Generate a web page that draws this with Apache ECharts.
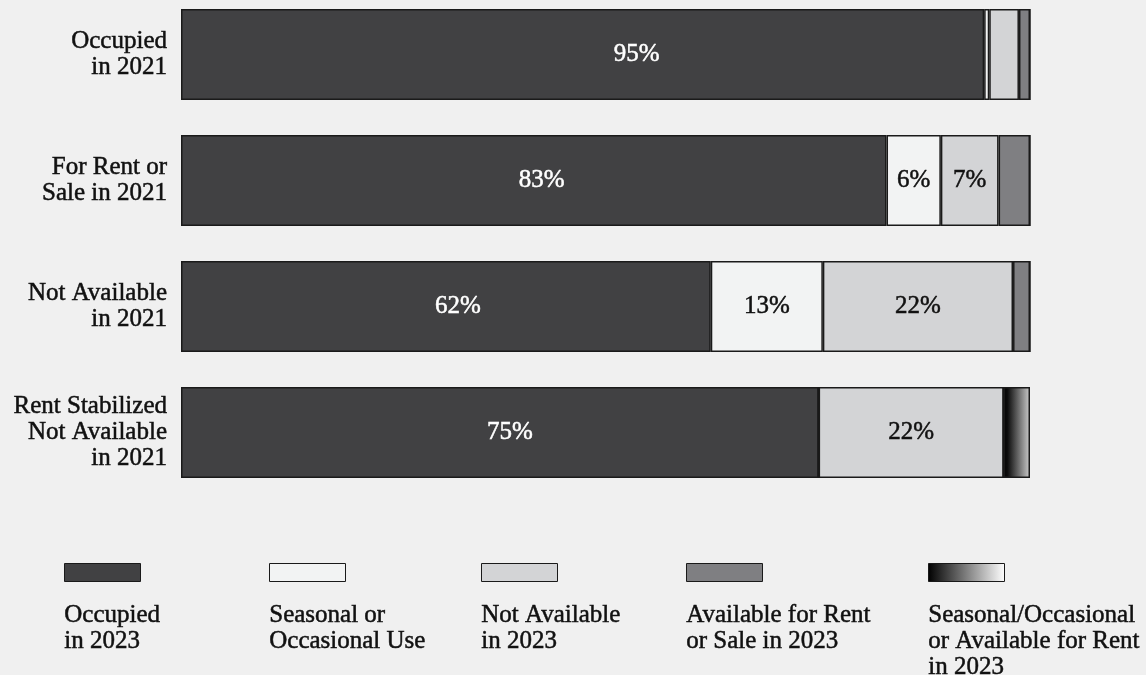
<!DOCTYPE html>
<html>
<head>
<meta charset="utf-8">
<script src="https://cdn.jsdelivr.net/npm/echarts@6/dist/echarts.min.js"></script>
<style>
html,body{margin:0;padding:0;background:#f0f0f0;}
#chart{width:1146px;height:675px;}
</style>
</head>
<body>
<div id="chart"></div>
<script>
// ---- data ----
var categories = ['Occupied\nin 2021', 'For Rent or\nSale in 2021', 'Not Available\nin 2021', 'Rent Stabilized\nNot Available\nin 2021'];
var occupied2023 = [94.6, 83.1, 62.4, 75.1];
var seasonalUse = [0.6, 6.4, 13.2, 0];
var notAvailable2023 = [3.5, 6.8, 22.4, 21.8];
var availableRentSale2023 = [1.3, 3.7, 2.0, 0];
var seasonalOrAvailable2023 = [0, 0, 0, 3.1];
var legendNames = ['Occupied\nin 2023', 'Seasonal or\nOccasional Use', 'Not Available\nin 2023', 'Available for Rent\nor Sale in 2023', 'Seasonal/Occasional\nor Available for Rent\nin 2023'];

// ---- styles ----
var FONT = 'Liberation Serif';
var FS = 25;
var STROKE = 0.5;
var gradBar = new echarts.graphic.LinearGradient(0, 0, 1, 0, [
  {offset: 0, color: '#000000'}, {offset: 0.15, color: '#0d0d0d'}, {offset: 1, color: '#cccccc'}]);
var gradLegend = new echarts.graphic.LinearGradient(0, 0, 1, 0, [
  {offset: 0, color: '#000000'}, {offset: 1, color: '#ffffff'}]);
var fills = ['#414143', '#f2f3f3', '#d3d4d6', '#7f7f82', gradBar];
var legendFills = ['#414143', '#f2f3f3', '#d3d4d6', '#7f7f82', gradLegend];
var labelColors = ['#ffffff', '#111111', '#111111', '#111111', '#111111'];
var occLabelOffsetX = [54, 8, 12, 10];
var legendX = [64, 269, 481, 686, 928];

var seriesValues = [occupied2023, seasonalUse, notAvailable2023, availableRentSale2023, seasonalOrAvailable2023];

var series = seriesValues.map(function (vals, si) {
  return {
    type: 'bar',
    name: legendNames[si],
    stack: 'all',
    barWidth: 91,
    data: vals.map(function (v, i) {
      var item = {value: v};
      if (si === 0) item.label = {offset: [occLabelOffsetX[i], 0]};
      return item;
    }),
    itemStyle: {color: fills[si], borderColor: '#1a1a1a', borderWidth: 1.5},
    label: {
      show: true,
      position: 'inside',
      color: labelColors[si],
      textBorderColor: labelColors[si],
      textBorderWidth: STROKE,
      fontFamily: FONT,
      fontSize: FS,
      formatter: function (p) { return p.value >= 5 ? Math.round(p.value) + '%' : ''; }
    },
    emphasis: {disabled: true},
    animation: false
  };
});

var graphics = [];
legendNames.forEach(function (n, i) {
  graphics.push({
    type: 'rect',
    left: legendX[i], top: 563,
    shape: {width: 76, height: 18},
    style: {fill: legendFills[i], stroke: '#1a1a1a', lineWidth: 1}
  });
  graphics.push({
    type: 'text',
    left: legendX[i], top: 602,
    style: {text: n, font: FS + 'px "' + FONT + '"', fill: '#111111', stroke: '#111111', lineWidth: STROKE, lineHeight: 26, textAlign: 'left'}
  });
});

var chart = echarts.init(document.getElementById('chart'));
chart.setOption({
  backgroundColor: '#f0f0f0',
  animation: false,
  grid: {left: 181, right: 116, top: 54.5, height: 378, containLabel: false},
  xAxis: {type: 'value', min: 0, max: 100, show: false},
  yAxis: {
    type: 'category',
    data: categories,
    inverse: true,
    boundaryGap: false,
    axisLine: {show: false},
    axisTick: {show: false},
    splitLine: {show: false},
    axisLabel: {
      margin: 14,
      align: 'right',
      color: '#111111',
      textBorderColor: '#111111',
      textBorderWidth: STROKE,
      fontFamily: FONT,
      fontSize: FS,
      lineHeight: 26
    }
  },
  series: series,
  graphic: graphics
});
</script>
</body>
</html>
